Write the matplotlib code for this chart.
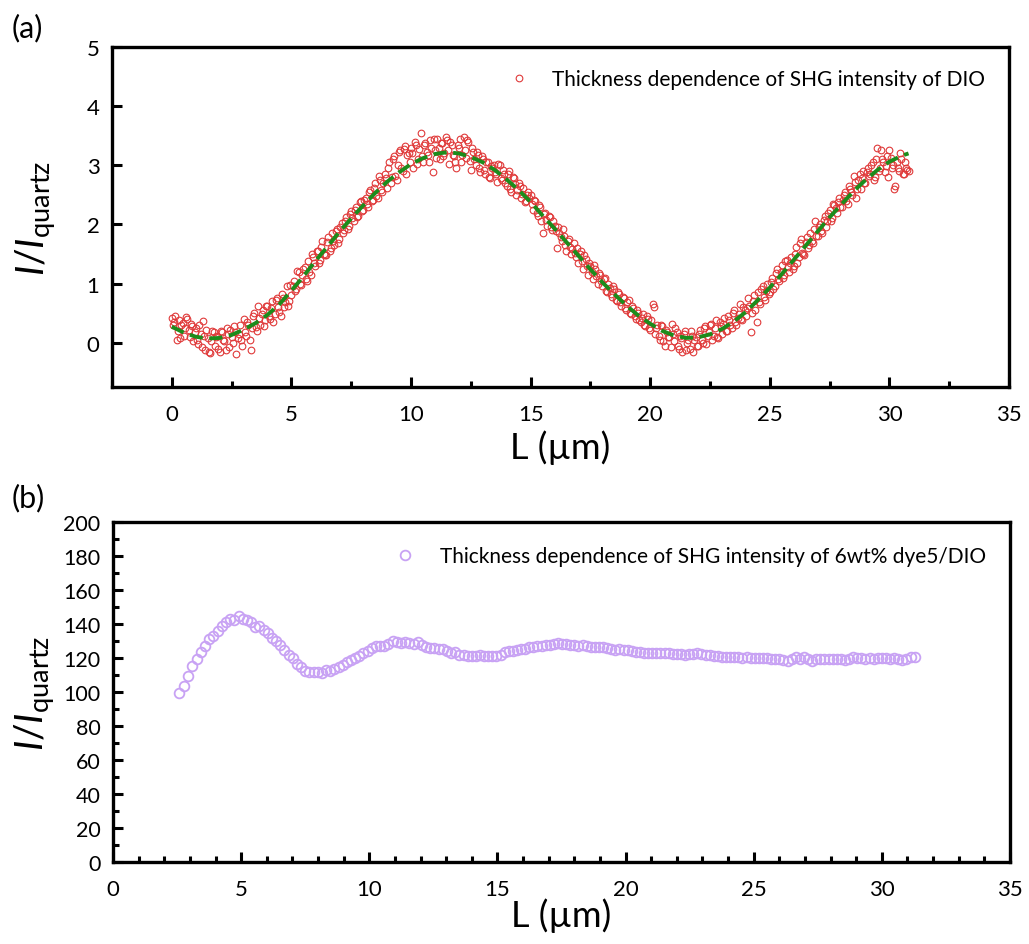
import numpy as np
import matplotlib
matplotlib.use("Agg")
import matplotlib.pyplot as plt
from matplotlib.ticker import MultipleLocator

plt.rcParams['font.family'] = ['Lato', 'DejaVu Sans']
plt.rcParams['mathtext.fontset'] = 'custom'
plt.rcParams['mathtext.rm'] = 'Lato'
plt.rcParams['mathtext.it'] = 'Lato:italic'

# ---------------- Panel (a) data ----------------
# measured points on the 0.1 um grid
a_x = [round(0.1 * i, 1) for i in range(309)]
a_y = [
    0.42, 0.35, 0.05, 0.38, 0.30, 0.12, 0.44, 0.22, 0.31, 0.02,
    0.24, -0.03, 0.15, 0.36, -0.12, 0.08, -0.17, 0.20, -0.05, 0.11,
    -0.15, 0.18, 0.02, 0.25, -0.08, 0.10, 0.28, -0.20, 0.14, 0.05,
    0.40, 0.12, 0.30, -0.12, 0.45, 0.27, 0.62, 0.30, 0.55, 0.38,
    0.62, 0.40, 0.70, 0.48, 0.75, 0.52, 0.82, 0.60, 0.95, 0.70,
    0.80, 1.05, 0.90, 1.20, 0.98, 1.25, 1.08, 1.38, 1.15, 1.45,
    1.30, 1.55, 1.40, 1.72, 1.48, 1.70, 1.55, 1.85, 1.65, 1.92,
    1.75, 2.02, 1.90, 2.12, 1.98, 2.22, 2.05, 2.30, 2.15, 2.40,
    2.25, 2.45, 2.30, 2.58, 2.42, 2.70, 2.45, 2.75, 2.55, 2.85,
    2.62, 3.05, 2.80, 3.15, 2.75, 3.22, 2.95, 3.28, 2.85, 3.20,
    3.30, 2.95, 3.35, 3.10, 3.55, 3.05, 3.38, 3.18, 3.42, 2.88,
    3.25, 3.45, 3.10, 3.38, 3.20, 3.42, 3.02, 3.35, 3.15, 2.95,
    3.30, 3.05, 3.48, 3.12, 3.40, 2.92, 3.22, 3.00, 3.18, 2.88,
    3.10, 2.85, 3.05, 2.78, 2.95, 2.88, 2.72, 3.00, 2.75, 2.85,
    2.65, 2.90, 2.55, 2.78, 2.50, 2.70, 2.45, 2.62, 2.40, 2.55,
    2.50, 2.25, 2.40, 2.15, 2.30, 1.85, 2.20, 1.98, 2.12, 1.90,
    1.98, 1.60, 1.85, 1.72, 1.80, 1.55, 1.75, 1.50, 1.68, 1.45,
    1.35, 1.55, 1.25, 1.42, 1.15, 1.30, 1.08, 1.25, 1.00, 1.15,
    0.95, 1.10, 0.85, 0.92, 0.78, 0.90, 0.70, 0.82, 0.62, 0.75,
    0.55, 0.72, 0.48, 0.58, 0.40, 0.50, 0.35, 0.48, 0.28, 0.40,
    0.22, 0.65, 0.15, 0.30, 0.05, 0.28, -0.05, 0.18, 0.10, 0.32,
    0.02, 0.18, -0.10, 0.08, 0.15, -0.12, 0.05, 0.20, -0.15, 0.10,
    -0.05, 0.22, 0.00, 0.28, 0.12, 0.30, 0.05, 0.25, 0.10, 0.35,
    0.15, 0.42, 0.20, 0.38, 0.25, 0.55, 0.30, 0.48, 0.40, 0.60,
    0.45, 0.75, 0.18, 0.70, 0.55, 0.85, 0.65, 0.95, 0.72, 1.00,
    0.85, 1.10, 0.95, 1.25, 1.05, 1.32, 1.15, 1.40, 1.20, 1.45,
    1.30, 1.62, 1.45, 1.75, 1.50, 1.70, 1.60, 1.85, 1.68, 2.05,
    1.80, 2.00, 1.85, 2.15, 2.05, 2.25, 2.10, 2.32, 2.20, 2.45,
    2.30, 2.50, 2.40, 2.65, 2.55, 2.82, 2.45, 2.75, 2.60, 2.90,
    2.70, 2.95, 2.85, 3.05, 2.80, 3.30, 2.95, 3.10, 2.88, 3.15,
    3.25, 2.95, 2.60, 3.05, 2.90, 3.10, 2.85, 2.95, 2.90,
]
# measured points on the interleaved (0.05 + 0.1k) um grid
a_x2 = [round(0.05 + 0.1 * i, 2) for i in range(308)]
a_y2 = [
    0.30, 0.45, 0.20, 0.08, 0.33, 0.25, 0.40, 0.10, 0.28, 0.18,
    0.05, 0.30, -0.08, 0.12, 0.22, -0.15, 0.02, 0.18, 0.10, -0.10,
    0.20, 0.05, -0.12, 0.15, 0.22, 0.00, 0.18, 0.08, 0.30, -0.05,
    0.18, 0.35, 0.05, 0.25, 0.50, 0.20, 0.42, 0.48, 0.28, 0.62,
    0.45, 0.58, 0.35, 0.72, 0.60, 0.45, 0.75, 0.68, 0.62, 0.98,
    0.95, 0.88, 1.22, 1.00, 1.15, 1.28, 1.05, 1.20, 1.50, 1.35,
    1.55, 1.35, 1.62, 1.50, 1.48, 1.78, 1.60, 1.72, 1.88, 1.68,
    1.95, 1.85, 2.05, 1.92, 2.18, 2.10, 2.25, 2.12, 2.38, 2.22,
    2.42, 2.35, 2.55, 2.40, 2.62, 2.48, 2.82, 2.58, 2.70, 2.78,
    2.95, 2.70, 3.10, 2.82, 3.00, 3.25, 2.90, 3.32, 3.18, 3.05,
    3.20, 3.40, 3.02, 3.28, 3.15, 3.35, 3.22, 3.05, 3.30, 3.45,
    3.12, 3.30, 3.38, 3.15, 3.48, 3.25, 3.40, 3.18, 3.05, 3.35,
    3.45, 3.18, 3.25, 3.42, 3.08, 3.30, 3.10, 3.22, 2.95, 3.15,
    2.92, 3.05, 2.80, 2.98, 3.00, 2.85, 3.02, 2.78, 2.92, 2.70,
    2.85, 2.60, 2.80, 2.68, 2.58, 2.65, 2.52, 2.38, 2.50, 2.45,
    2.35, 2.42, 2.20, 2.32, 2.05, 2.18, 2.08, 2.15, 1.95, 2.05,
    1.88, 1.95, 1.78, 1.92, 1.65, 1.72, 1.62, 1.58, 1.52, 1.60,
    1.50, 1.38, 1.48, 1.30, 1.35, 1.20, 1.32, 1.12, 1.18, 1.05,
    1.08, 0.88, 1.00, 0.82, 0.95, 0.72, 0.85, 0.68, 0.78, 0.58,
    0.68, 0.50, 0.62, 0.45, 0.55, 0.38, 0.42, 0.30, 0.45, 0.25,
    0.38, 0.60, 0.25, 0.12, 0.30, 0.02, 0.22, 0.10, -0.08, 0.15,
    0.25, -0.05, 0.12, -0.15, 0.20, 0.00, -0.10, 0.12, 0.05, -0.05,
    0.15, 0.05, 0.25, -0.02, 0.18, 0.32, 0.12, 0.38, 0.08, 0.28,
    0.32, 0.20, 0.45, 0.30, 0.50, 0.35, 0.42, 0.65, 0.38, 0.55,
    0.58, 0.62, 0.50, 0.80, 0.35, 0.68, 0.90, 0.78, 0.88, 0.82,
    1.02, 0.90, 1.18, 1.08, 1.20, 1.10, 1.38, 1.28, 1.35, 1.25,
    1.50, 1.35, 1.68, 1.52, 1.48, 1.78, 1.65, 1.72, 1.92, 1.80,
    1.95, 1.88, 2.08, 1.95, 2.20, 2.05, 2.35, 2.28, 2.38, 2.30,
    2.42, 2.55, 2.35, 2.60, 2.50, 2.72, 2.60, 2.85, 2.78, 2.70,
    2.88, 2.82, 3.00, 2.75, 3.10, 2.90, 3.25, 3.05, 2.98, 2.80,
    3.12, 3.00, 2.65, 2.95, 3.20, 2.85, 3.05, 2.92,
]

fit_x = [0.0, 0.5, 1.0, 1.5, 2.0, 2.5, 3.0, 3.5, 4.0, 4.5, 5.0, 5.5, 6.0, 6.5,
         7.0, 7.5, 8.0, 8.5, 9.0, 9.5, 10.0, 10.5, 11.0, 11.5, 12.0, 12.5,
         13.0, 13.5, 14.0, 14.5, 15.0, 15.5, 16.0, 16.5, 17.0, 17.5, 18.0,
         18.5, 19.0, 19.5, 20.0, 20.5, 21.0, 21.5, 22.0, 22.5, 23.0, 23.5,
         24.0, 24.5, 25.0, 25.5, 26.0, 26.5, 27.0, 27.5, 28.0, 28.5, 29.0,
         29.5, 30.0, 30.5, 30.8]
fit_y = [0.27, 0.17, 0.10, 0.07, 0.08, 0.13, 0.22, 0.33, 0.47, 0.65, 0.88,
         1.12, 1.38, 1.62, 1.87, 2.10, 2.32, 2.53, 2.72, 2.88, 3.02, 3.12,
         3.19, 3.22, 3.20, 3.14, 3.05, 2.92, 2.76, 2.58, 2.38, 2.15, 1.93,
         1.70, 1.47, 1.24, 1.02, 0.82, 0.63, 0.46, 0.32, 0.20, 0.12, 0.08,
         0.09, 0.14, 0.23, 0.36, 0.52, 0.72, 0.93, 1.16, 1.40, 1.64, 1.88,
         2.12, 2.34, 2.56, 2.75, 2.92, 3.06, 3.16, 3.20]

# ---------------- Panel (b) data ----------------
b_x = [2.58, 2.77, 2.94, 3.09, 3.26, 3.43, 3.60, 3.76, 3.91, 4.08, 4.24, 4.41,
       4.56, 4.73, 4.90, 5.06, 5.22, 5.38, 5.55, 5.71, 5.88, 6.04, 6.20, 6.36,
       6.53, 6.68, 6.85, 7.01, 7.18, 7.34, 7.50, 7.66, 7.83, 7.99, 8.15, 8.31,
       8.47, 8.63, 8.81, 8.96, 9.12, 9.29, 9.44, 9.61, 9.77, 9.94, 10.09, 10.26,
       10.42, 10.59, 10.74, 10.91, 11.07, 11.24, 11.40, 11.56, 11.73, 11.89,
       12.06, 12.21, 12.37, 12.54, 12.71, 12.86, 13.03, 13.19, 13.36, 13.51,
       13.68, 13.84, 14.00, 14.16, 14.32, 14.48, 14.64, 14.80, 14.96, 15.12,
       15.28, 15.44, 15.60, 15.76, 15.92, 16.08, 16.24, 16.40, 16.56, 16.72,
       16.88, 17.04, 17.20, 17.36, 17.52, 17.68, 17.84, 18.00, 18.16, 18.32,
       18.48, 18.64, 18.80, 18.96, 19.12, 19.28, 19.44, 19.60, 19.76, 19.92,
       20.08, 20.24, 20.40, 20.56, 20.72, 20.88, 21.04, 21.20, 21.36, 21.52,
       21.68, 21.84, 22.00, 22.16, 22.32, 22.48, 22.64, 22.80, 22.96, 23.12,
       23.28, 23.44, 23.60, 23.76, 23.92, 24.08, 24.24, 24.40, 24.56, 24.72,
       24.88, 25.04, 25.20, 25.36, 25.52, 25.68, 25.84, 26.00, 26.16, 26.32,
       26.48, 26.64, 26.80, 26.96, 27.12, 27.28, 27.44, 27.60, 27.76, 27.92,
       28.08, 28.24, 28.40, 28.56, 28.72, 28.88, 29.04, 29.20, 29.36, 29.52,
       29.68, 29.84, 30.00, 30.16, 30.32, 30.48, 30.64, 30.80, 30.96, 31.12,
       31.28]
b_y = [99.2, 103.5, 109.6, 115.5, 119.4, 123.7, 126.9, 131.2, 133.1, 135.7,
       139.0, 141.0, 142.9, 142.4, 144.5, 142.9, 142.4, 141.0, 138.0, 139.0,
       136.5, 134.5, 131.8, 130.2, 127.8, 124.7, 121.8, 119.8, 116.5, 114.5,
       112.5, 111.6, 111.6, 111.6, 111.2, 112.9, 112.5, 113.5, 114.5, 115.9,
       117.5, 118.8, 120.2, 121.4, 122.8, 124.3, 125.7, 126.9, 127.3, 126.9,
       128.0, 130.2, 129.2, 128.6, 129.2, 128.6, 128.2, 129.2, 127.6, 126.6,
       125.7, 125.7, 125.3, 125.3, 124.3, 122.9, 123.3, 121.8, 121.8, 121.4,
       121.4, 121.2, 121.6, 121.3, 121.0, 121.2, 120.9, 121.6, 123.6, 124.2,
       124.0, 124.9, 125.2, 125.5, 126.2, 126.6, 127.3, 126.9, 127.4, 127.9,
       128.4, 128.8, 128.1, 128.0, 127.6, 127.5, 127.3, 127.6, 127.2, 126.7,
       126.4, 126.3, 126.5, 126.1, 125.4, 124.9, 125.3, 124.8, 124.6, 123.9,
       123.3, 123.4, 122.9, 123.0, 122.8, 122.9, 123.1, 122.7, 122.9, 122.5,
       122.4, 122.2, 121.8, 122.1, 122.6, 122.9, 122.2, 121.8, 121.9, 121.3,
       121.0, 120.8, 120.4, 120.6, 120.4, 120.3, 120.2, 120.4, 120.0, 119.9,
       120.2, 119.8, 119.9, 119.7, 119.5, 119.2, 118.6, 118.4, 119.6, 120.4,
       119.3, 120.4, 119.2, 118.5, 119.2, 119.6, 119.4, 119.7, 119.5, 119.2,
       119.4, 119.0, 119.6, 120.4, 120.0, 119.8, 119.6, 119.9, 119.6, 119.8,
       120.1, 120.0, 119.7, 119.9, 119.4, 118.8, 119.5, 120.4, 120.6]

label_a = "Thickness dependence of SHG intensity of DIO"
label_b = "Thickness dependence of SHG intensity of 6wt% dye5/DIO"

W, H = 1029, 945
fig = plt.figure(figsize=(W / 100, H / 100), dpi=100)

RED = '#e03a3a'
PURPLE = '#c8a2f4'

def style_axes(ax):
    for sp in ax.spines.values():
        sp.set_linewidth(2.4)
    ax.tick_params(which='both', direction='in', top=False, right=False,
                   width=2.2, labelsize=16)
    ax.tick_params(axis='x', which='both', pad=12)
    ax.tick_params(axis='y', which='both', pad=9)
    ax.tick_params(which='major', length=7)
    ax.tick_params(which='minor', length=4)

# Panel (a)
ax1 = fig.add_axes([112 / W, 1 - 388 / H, (1009 - 112) / W, (388 - 48) / H])
h1, = ax1.plot(a_x, a_y, linestyle='none', marker='o', markersize=4.8,
               markerfacecolor='none', markeredgecolor=RED, markeredgewidth=0.8,
               label=label_a)
ax1.plot(a_x2, a_y2, linestyle='none', marker='o', markersize=4.8,
         markerfacecolor='none', markeredgecolor=RED, markeredgewidth=0.8)
ax1.plot(fit_x, fit_y, linestyle=(0, (3.4, 1.7)), color='#1c8c1c',
         linewidth=2.8, zorder=5)
ax1.set_xlim(-2.5, 35)
ax1.set_ylim(-0.75, 5)
ax1.set_xticks([0, 5, 10, 15, 20, 25, 30, 35])
ax1.xaxis.set_minor_locator(MultipleLocator(2.5))
ax1.yaxis.set_major_locator(MultipleLocator(1))
style_axes(ax1)
ax1.set_xlabel("L (\u00b5m)", fontsize=26)
ax1.xaxis.set_label_coords(0.5, -0.125)
ax1.set_ylabel(r"$\mathit{I/I}_{\mathrm{quartz}}$", fontsize=28)
ax1.yaxis.set_label_coords(-0.06, 0.5)
ax1.legend(handles=[h1], loc='center right', frameon=False,
           fontsize=15, bbox_to_anchor=(0.99, 0.906), handletextpad=0.85,
           handlelength=1.5, borderpad=0.2)

# Panel (b)
ax2 = fig.add_axes([113 / W, 1 - 863 / H, (1010 - 113) / W, (863 - 523) / H])
ax2.plot(b_x, b_y, linestyle='none', marker='o', markersize=7,
         markerfacecolor='none', markeredgecolor=PURPLE, markeredgewidth=1.3,
         label=label_b)
ax2.set_xlim(0, 35)
ax2.set_ylim(0, 200)
ax2.xaxis.set_major_locator(MultipleLocator(5))
ax2.xaxis.set_minor_locator(MultipleLocator(1))
ax2.yaxis.set_major_locator(MultipleLocator(20))
ax2.yaxis.set_minor_locator(MultipleLocator(10))
style_axes(ax2)
ax2.tick_params(axis='y', which='both', labelsize=15.5)
ax2.set_xlabel("L (\u00b5m)", fontsize=26)
ax2.xaxis.set_label_coords(0.5, -0.105)
ax2.set_ylabel(r"$\mathit{I/I}_{\mathrm{quartz}}$", fontsize=28)
ax2.yaxis.set_label_coords(-0.062, 0.5)
ax2.legend(loc='center right', frameon=False, fontsize=15,
           bbox_to_anchor=(0.99, 0.9), handletextpad=0.95, handlelength=1.5,
           borderpad=0.2)

fig.text(12 / W, 1 - 37 / H, "(a)", fontsize=22)
fig.text(12 / W, 1 - 507 / H, "(b)", fontsize=22)

fig.savefig("out.png", dpi=100)
